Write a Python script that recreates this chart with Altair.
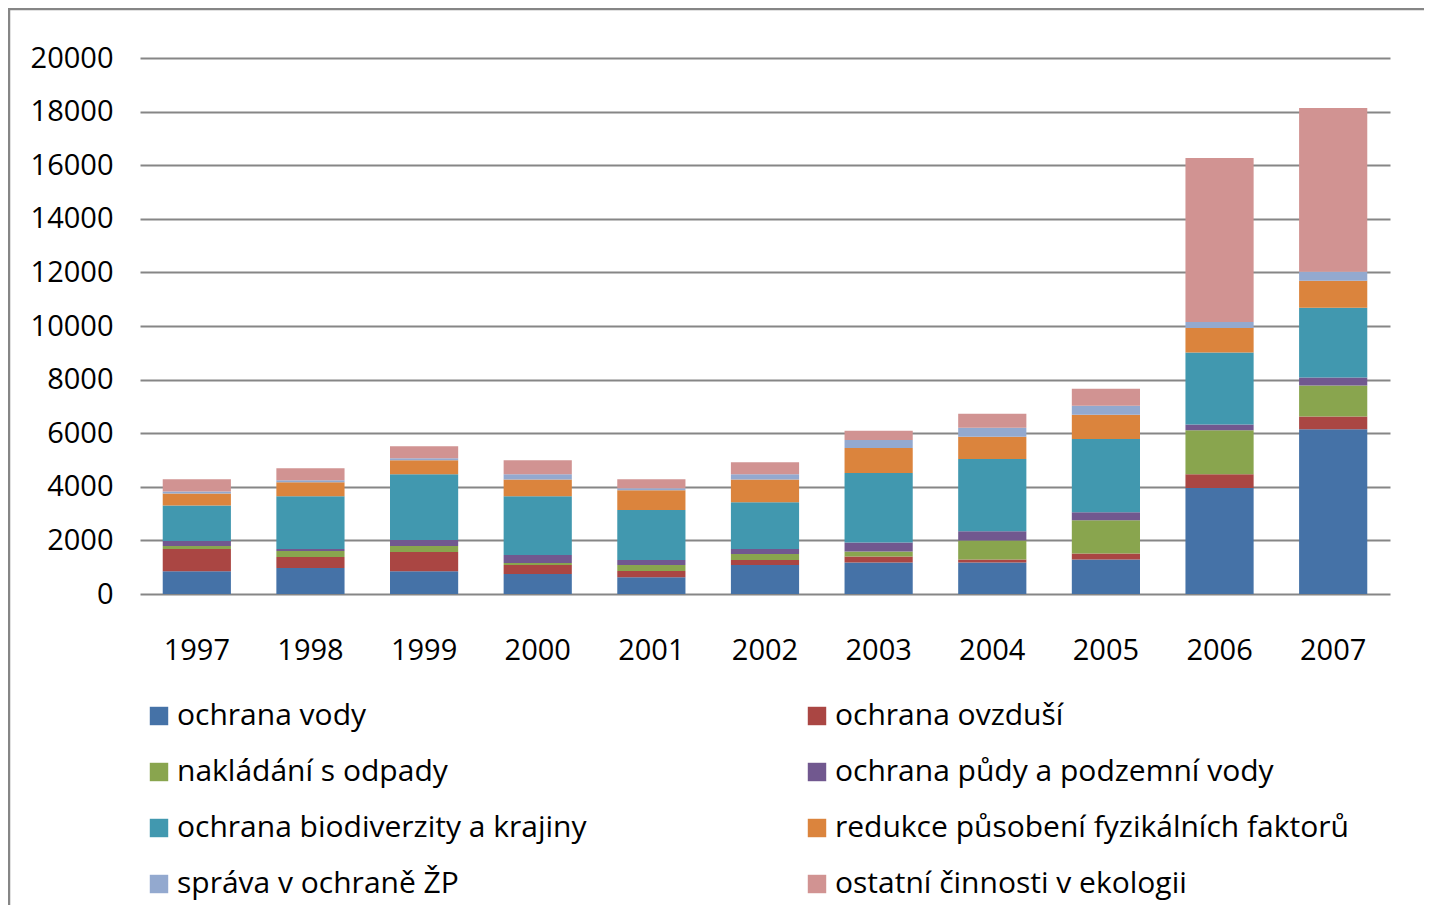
import altair as alt
import pandas as pd

years = ["1997", "1998", "1999", "2000", "2001", "2002", "2003", "2004", "2005", "2006", "2007"]
series = [
    "ochrana vody",
    "ochrana ovzduší",
    "nakládání s odpady",
    "ochrana půdy a podzemní vody",
    "ochrana biodiverzity a krajiny",
    "redukce působení fyzikálních faktorů",
    "správa v ochraně ŽP",
    "ostatní činnosti v ekologii",
]
vody = [845, 969, 845, 745, 621, 1081, 1175, 1175, 1288, 3959, 6143]
ovzdusi = [832, 410, 720, 336, 236, 186, 225, 113, 225, 509, 484]
odpady = [112, 223, 224, 74, 224, 223, 188, 712, 1237, 1638, 1154]
pudy = [186, 75, 223, 298, 186, 187, 337, 338, 300, 223, 298]
biodiverzita = [1329, 1974, 2459, 2198, 1863, 1751, 2588, 2700, 2738, 2681, 2606]
redukce = [447, 522, 522, 621, 745, 844, 937, 825, 900, 918, 1005]
sprava = [74, 75, 74, 199, 75, 199, 300, 337, 337, 223, 335]
ostatni = [460, 447, 447, 522, 335, 447, 338, 525, 638, 6119, 6106]
colors = ["#4572A7", "#AA4643", "#89A54E", "#71588F", "#4198AF", "#DB843D", "#93A9CF", "#D19392"]
y_ticks = list(range(0, 20001, 2000))

values = [vody, ovzdusi, odpady, pudy, biodiverzita, redukce, sprava, ostatni]
rows = []
for si, (name, vals) in enumerate(zip(series, values)):
    for y, v in zip(years, vals):
        rows.append({"rok": y, "kategorie": name, "hodnota": v, "poradi": si})
df = pd.DataFrame(rows)

# legend is laid out column by column: reorder so it reads row by row (2 columns)
legend_order = series[0::2] + series[1::2]
legend_colors = colors[0::2] + colors[1::2]

FONT = "Open Sans"

bars = alt.Chart(df).mark_bar().encode(
    x=alt.X("rok:N", sort=years, title=None,
            scale=alt.Scale(paddingInner=0.4, paddingOuter=0.2),
            axis=alt.Axis(labelAngle=0, ticks=False, domain=False, labelPadding=42,
                          labelFontSize=29, labelFont=FONT, labelColor="black")),
    y=alt.Y("hodnota:Q", stack="zero", title=None,
            scale=alt.Scale(domain=[0, 20000], nice=False),
            axis=alt.Axis(values=y_ticks, format="d", ticks=False, domain=False,
                          labelPadding=27, labelFontSize=29, labelFont=FONT,
                          labelColor="black", gridColor="#868686", gridWidth=2.2,
                          gridOpacity=1)),
    color=alt.Color("kategorie:N", sort=legend_order,
                    scale=alt.Scale(domain=legend_order, range=legend_colors),
                    legend=alt.Legend(title=None, orient="none", legendX=4, legendY=643,
                                      columns=2, columnPadding=215, rowPadding=26,
                                      symbolType="square", symbolSize=340,
                                      symbolStrokeWidth=0, labelOffset=3,
                                      labelFontSize=30, labelFont=FONT,
                                      labelColor="black", labelLimit=800)),
    order=alt.Order("poradi:Q", sort="ascending"),
)

frame = alt.Chart(alt.Data(values=[{}])).mark_rect(
    fill=None, stroke="#868686", strokeWidth=2.5
).encode(
    x=alt.value(-131), x2=alt.value(1400), y=alt.value(-49), y2=alt.value(900)
)

chart = alt.layer(frame, bars).properties(
    width=1250, height=536,
    autosize=alt.AutoSizeParams(type="none"),
    padding={"left": 132, "top": 50, "right": 34, "bottom": 311},
).configure(background="white").configure_view(stroke=None)

chart.save("out.html", embed_options={"renderer": "svg", "actions": False})
